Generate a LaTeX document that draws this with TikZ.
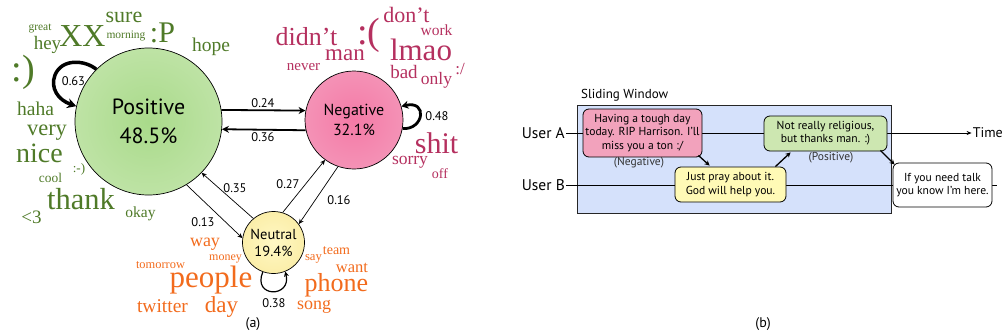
\documentclass[tikz,border=0pt]{standalone}
\usepackage{fontspec}
\setmainfont{Liberation Serif}
\newfontfamily\gill{PT Sans}
\usetikzlibrary{arrows.meta,calc}

\definecolor{posw}{HTML}{4F7A28}
\definecolor{negw}{HTML}{B5305F}
\definecolor{neuw}{HTML}{F26B1D}
\definecolor{posin}{HTML}{A9DA8A}
\definecolor{posout}{HTML}{D3ECC0}
\definecolor{negin}{HTML}{F47AA6}
\definecolor{negout}{HTML}{F5AAC6}
\definecolor{neuin}{HTML}{FFF8C4}
\definecolor{neuout}{HTML}{F7E48E}
\definecolor{winblue}{HTML}{D5E1FB}
\definecolor{tpink}{HTML}{F2A2BC}
\definecolor{tyellow}{HTML}{FFFAB6}
\definecolor{tgreen}{HTML}{CDE7B1}

\pgfdeclareradialshading{posshade}{\pgfpoint{0bp}{0bp}}{color(0bp)=(posin); color(50bp)=(posout)}
\pgfdeclareradialshading{negshade}{\pgfpoint{0bp}{0bp}}{color(0bp)=(negin); color(50bp)=(negout)}
\pgfdeclareradialshading{neushade}{\pgfpoint{0bp}{0bp}}{color(0bp)=(neuin); color(50bp)=(neuout)}

\newcommand\fsz[1]{\fontsize{#1}{#1}\selectfont}

\begin{document}
\begin{tikzpicture}[x=1pt,y=-1pt,
  word/.style={inner sep=0pt, outer sep=0pt, anchor=center},
  pw/.style={word, text=posw},
  nw/.style={word, text=negw},
  uw/.style={word, text=neuw},
  state/.style={circle, draw=black, line width=0.7pt, inner sep=0pt, align=center},
  prob/.style={font=\gill\fsz{12.5}, inner sep=0pt},
  heavy/.style={line width=1.8pt, -{Stealth[length=7pt,width=7pt]}},
  light/.style={line width=0.7pt, -{Stealth[length=5pt,width=4.5pt]}},
  msg/.style={draw=black, line width=0.8pt, rounded corners=6pt, align=center, inner sep=0pt, font=\gill\fontsize{11.6}{13.2}\selectfont},
  reply/.style={line width=1.3pt, -{Stealth[length=5pt,width=5pt]}},
  tag/.style={font=\gill\fsz{11.5}, text=black!80, inner sep=0pt},
  user/.style={font=\gill\fsz{15.5}, inner sep=1pt},
]
\useasboundingbox (0,0) rectangle (1005,335);

% ---------- (a) sentiment states ----------
\node[state, shading=posshade, minimum size=147pt, font=\gill\fontsize{22}{29}\selectfont] (pos) at (148.5,121.5) {Positive\\48.5\%};
\node[state, shading=negshade, minimum size=98pt, font=\gill\fontsize{16}{20}\selectfont] (neg) at (354,120) {Negative\\32.1\%};
\node[state, shading=neushade, minimum size=62pt, font=\gill\fontsize{14.5}{17}\selectfont] (neu) at (273.5,242.5) {Neutral\\19.4\%};

% transitions
\draw[heavy] (pos.9) -- (neg.169);
\draw[heavy] (neg.-168) -- (pos.-6);
\draw[light] (pos.-59) -- (neu.172);
\draw[light] (neu.130) -- (pos.-44);
\draw[light] (neu.73) -- (neg.-126);
\draw[light] (neg.-109) -- (neu.36);

% self loops
\draw[line width=3.5pt, -{Stealth[length=9pt,width=10pt]}] (pos.135) .. controls (85,60) and (62,58) .. (55,75) .. controls (50,88) and (58,100) .. (pos.168);
\draw[line width=2.8pt, -{Stealth[length=7pt,width=8pt]}] (neg.-10) .. controls (424,130) and (428,100) .. (neg.16);
\draw[line width=1.2pt, -{Stealth[length=5pt,width=5pt]}] (neu.-110) .. controls (252,298) and (292,298) .. (neu.-68);

% transition probabilities
\node[prob] (p63) at (73.5,81) {0.63};
\node[prob] (p24) at (263,103) {0.24};
\node[prob] (p36) at (263,137) {0.36};
\node[prob] (p48) at (437,116) {0.48};
\node[prob] (p35) at (235,188) {0.35};
\node[prob] (p13) at (203,222) {0.13};
\node[prob] (p27) at (288,184) {0.27};
\node[prob] (p16) at (339,200) {0.16};
\node[prob] (p38) at (274,303) {0.38};

% positive words
\node[pw, font=\fsz{11.5}] (wgreat) at (40,29) {great};
\node[pw, font=\fsz{19}] (whey) at (47.5,44.5) {hey};
\node[pw, font=\fsz{32}] (wxx) at (82.5,36.5) {XX};
\node[pw, font=\fsz{22}] (wsure) at (124,17.5) {sure};
\node[pw, font=\fsz{11.5}] (wmorning) at (126,36) {morning};
\node[pw, font=\fsz{30}] (wP) at (162.5,32.5) {:P};
\node[pw, font=\fsz{19.5}] (whope) at (211,47) {hope};
\node[pw, font=\fsz{38}] (wsmile) at (23.5,72.5) {:)};
\node[pw, font=\fsz{19.5}] (whaha) at (35.5,109) {haha};
\node[pw, font=\fsz{22.5}] (wvery) at (47,132.5) {very};
\node[pw, font=\fsz{28}] (wnice) at (39.5,153.5) {nice};
\node[pw, font=\fsz{13}] (wnose) at (79,169.5) {:-)};
\node[pw, font=\fsz{13.4}] (wcool) at (50.5,178) {cool};
\node[pw, font=\fsz{30.5}] (wthank) at (81,199.5) {thank};
\node[pw, font=\fsz{19}] (wheart) at (31.5,217) {<3};
\node[pw, font=\fsz{15.5}] (wokay) at (140.5,214) {okay};

% negative words
\node[nw, font=\fsz{26}] (wdidnt) at (306.5,36.5) {didn’t};
\node[nw, font=\fsz{38}] (wsad) at (369,35.5) {:(};
\node[nw, font=\fsz{22}] (wdont) at (406.5,14.5) {don’t};
\node[nw, font=\fsz{15.5}] (wwork) at (436.5,30.5) {work};
\node[nw, font=\fsz{31}] (wlmao) at (421,49.5) {lmao};
\node[nw, font=\fsz{23}] (wman) at (345,55.5) {man};
\node[nw, font=\fsz{15}] (wnever) at (303.5,67.5) {never};
\node[nw, font=\fsz{19}] (wbad) at (404,71.5) {bad};
\node[nw, font=\fsz{17.5}] (wonly) at (436.5,80.5) {only};
\node[nw, font=\fsz{17}] (wslash) at (460,69) {:/};
\node[nw, font=\fsz{30}] (wshit) at (436.5,143.5) {shit};
\node[nw, font=\fsz{17.5}] (wsorry) at (410,162.5) {sorry};
\node[nw, font=\fsz{14}] (woff) at (440,174) {off};

% neutral words
\node[uw, font=\fsz{18}] (wway) at (205,244) {way};
\node[uw, font=\fsz{12.4}] (wtomorrow) at (160.5,265) {tomorrow};
\node[uw, font=\fsz{12}] (wmoney) at (225.5,259) {money};
\node[uw, font=\fsz{31}] (wpeople) at (211,280) {people};
\node[uw, font=\fsz{19.5}] (wtwitter) at (162.5,306) {twitter};
\node[uw, font=\fsz{23}] (wday) at (221.5,306.5) {day};
\node[uw, font=\fsz{14}] (wteam) at (336.5,251) {team};
\node[uw, font=\fsz{12.7}] (wsay) at (313.5,259) {say};
\node[uw, font=\fsz{16.5}] (wwant) at (352,268) {want};
\node[uw, font=\fsz{26}] (wphone) at (336.5,285.5) {phone};
\node[uw, font=\fsz{18}] (wsong) at (314,307) {song};

\node[font=\gill\fsz{14}, inner sep=0pt] (capa) at (253,324) {(a)};

% ---------- (b) sliding window over a conversation ----------
\draw[fill=winblue, draw=black!85, line width=0.9pt] (577,105) rectangle (891,213);
\node[anchor=west, font=\gill\fsz{13}, inner sep=0pt] (sw) at (581,95) {Sliding Window};

\node[user, anchor=east] (ua) at (566,133) {User A};
\node[user, anchor=east] (ub) at (566,185) {User B};
\node[font=\gill\fsz{14}, inner sep=1pt, anchor=east] (time) at (1004,133) {Time};
\coordinate (bend) at (997,185);
\draw[line width=0.8pt, -{Stealth[length=5pt,width=4pt]}] (ua.east) -- (time.west);
\draw[line width=0.8pt] (ub.east) -- (bend);

\node[msg, fill=tpink, minimum width=119pt, minimum height=48pt] (m1) at (642.5,133) {Having a tough day\\today. RIP Harrison. I’ll\\miss you a ton :/};
\node[msg, fill=tyellow, minimum width=111pt, minimum height=35pt] (m2) at (730.5,184.5) {Just pray about it.\\God will help you.};
\node[msg, fill=tgreen, minimum width=123pt, minimum height=35pt] (m3) at (825.5,133.5) {Not really religious,\\but thanks man. :)};
\node[msg, fill=white, minimum width=99pt, minimum height=44pt] (m4) at (942.5,185) {If you need talk\\you know I’m here.};

\node[tag] (t1) at (639,163) {(Negative)};
\node[tag] (t3) at (831,158) {(Positive)};

\draw[reply] ([xshift=-4pt,yshift=2pt]m1.south east) -- ([xshift=35pt,yshift=1pt]m2.north west);
\draw[reply] ([xshift=-11pt]m2.north east) -- ([xshift=27pt,yshift=-1pt]m3.south west);
\draw[reply] ([xshift=-7pt,yshift=1pt]m3.south east) -- ([xshift=2pt,yshift=-2pt]m4.north west);

\node[font=\gill\fsz{14}, inner sep=0pt] (capb) at (763,324) {(b)};
\end{tikzpicture}
\end{document}
